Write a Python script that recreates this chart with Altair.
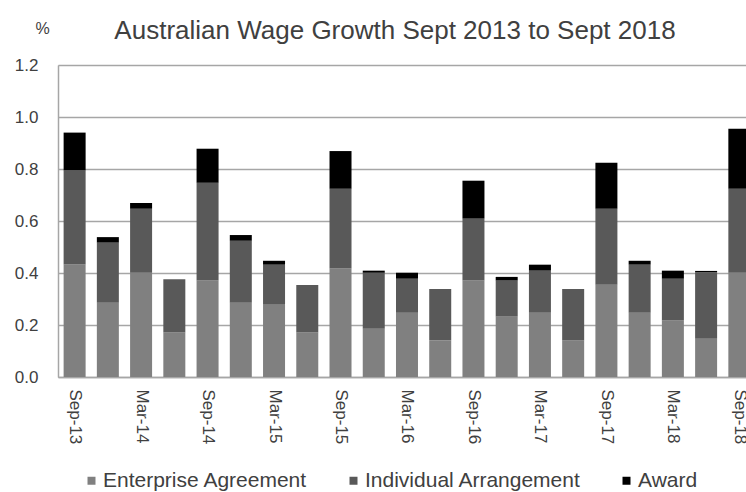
import altair as alt
import pandas as pd

quarters = ["Sep-13", "Dec-13", "Mar-14", "Jun-14", "Sep-14", "Dec-14", "Mar-15",
            "Jun-15", "Sep-15", "Dec-15", "Mar-16", "Jun-16", "Sep-16", "Dec-16",
            "Mar-17", "Jun-17", "Sep-17", "Dec-17", "Mar-18", "Jun-18", "Sep-18"]
enterprise = [0.433, 0.286, 0.401, 0.171, 0.371, 0.286, 0.278, 0.171, 0.417, 0.186, 0.247,
              0.140, 0.371, 0.232, 0.247, 0.140, 0.355, 0.247, 0.217, 0.147, 0.401]
individual = [0.362, 0.231, 0.246, 0.205, 0.376, 0.238, 0.154, 0.183, 0.307, 0.215, 0.131,
              0.198, 0.238, 0.139, 0.162, 0.198, 0.292, 0.185, 0.161, 0.256, 0.323]
award = [0.145, 0.021, 0.022, 0.0, 0.131, 0.022, 0.015, 0.0, 0.145, 0.008, 0.023,
         0.0, 0.146, 0.014, 0.023, 0.0, 0.177, 0.015, 0.031, 0.005, 0.231]
series = ["Enterprise Agreement", "Individual Arrangement", "Award"]
colors = ["#808080", "#595959", "#000000"]
y_ticks = [0, 0.2, 0.4, 0.6, 0.8, 1.0, 1.2]

rows = []
for k, (name, vals) in enumerate(zip(series, [enterprise, individual, award])):
    for i, (q, v) in enumerate(zip(quarters, vals)):
        rows.append({"i": i, "quarter": q, "series": name, "k": k, "value": v})
df = pd.DataFrame(rows)

label_expr = "[" + ",".join("'%s'" % q for q in quarters) + "][datum.value]"
FONT = "Liberation Sans"
TXT = "#404040"
GRID = "#a6a6a6"

chart = (
    alt.Chart(df)
    .transform_stack(
        stack="value",
        groupby=["i"],
        as_=["y0", "y1"],
        sort=[alt.SortField("k", order="ascending")],
    )
    .transform_calculate(lo="datum.i - 0.331", hi="datum.i + 0.331")
    .mark_bar(clip=True)
    .encode(
        x=alt.X(
            "lo:Q",
            scale=alt.Scale(domain=[-0.5, 20.2], nice=False, zero=False),
            axis=alt.Axis(
                values=list(range(0, 21, 2)),
                labelExpr=label_expr,
                labelAngle=90,
                labelAlign="left",
                labelBaseline="middle",
                labelPadding=12,
                labelFlush=False,
                labelOverlap=False,
                labelFont=FONT,
                labelFontSize=17,
                labelColor=TXT,
                ticks=False,
                grid=False,
                domainColor=GRID,
                domainWidth=1.5,
                title=None,
            ),
        ),
        x2="hi:Q",
        y=alt.Y(
            "y0:Q",
            scale=alt.Scale(domain=[0, 1.2], nice=False),
            axis=alt.Axis(
                values=y_ticks,
                format=".1f",
                labelFont=FONT,
                labelFontSize=17,
                labelColor=TXT,
                labelPadding=20,
                ticks=False,
                grid=True,
                gridColor=GRID,
                gridWidth=1.5,
                domainColor=GRID,
                domainWidth=1.5,
                title="%",
                titleAngle=0,
                titleX=-16,
                titleY=-37,
                titleAlign="center",
                titleBaseline="middle",
                titleFont=FONT,
                titleFontSize=16,
                titleFontWeight="normal",
                titleColor=TXT,
            ),
        ),
        y2="y1:Q",
        color=alt.Color(
            "series:N",
            scale=alt.Scale(domain=series, range=colors),
            legend=alt.Legend(
                title=None,
                orient="none",
                legendX=23,
                legendY=405,
                direction="horizontal",
                symbolType="square",
                symbolSize=64,
                symbolStrokeWidth=0,
                labelFont=FONT,
                labelFontSize=21,
                labelColor=TXT,
                labelOffset=1,
                labelLimit=0,
                columnPadding=35,
            ),
        ),
    )
    .properties(
        width=688,
        height=312,
        autosize=alt.AutoSizeParams(type="none"),
        padding={"left": 58, "top": 65, "right": 0, "bottom": 115},
        title=alt.TitleParams(
            "Australian Wage Growth Sept 2013 to Sept 2018",
            anchor="middle",
            dx=-7,
            offset=-24,
            font=FONT,
            fontSize=26,
            fontWeight="normal",
            color=TXT,
        ),
    )
    .configure_view(stroke=None)
    .configure(background="white")
)

chart.save("out.html", embed_options={"renderer": "svg", "actions": False})
